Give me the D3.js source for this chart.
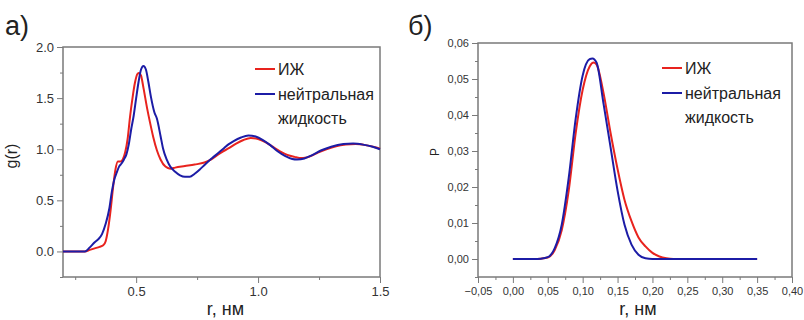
<!DOCTYPE html>
<html>
<head>
<meta charset="utf-8">
<script src="https://cdn.jsdelivr.net/npm/d3@7"></script>
<style>
  body { margin: 0; background: #fff; }
  svg { display: block; font-family: "Liberation Sans", Arial, sans-serif; }
</style>
</head>
<body>
<svg id="board" width="804" height="320"></svg>
<script>
// --- panel a: radial distribution g(r) ---
const rdfR = [0.20, 0.29, 0.31, 0.33, 0.345, 0.36, 0.375, 0.39, 0.40, 0.41, 0.42, 0.43, 0.44, 0.45, 0.46, 0.47, 0.48, 0.49, 0.50, 0.51, 0.52, 0.53, 0.54, 0.55, 0.56, 0.575, 0.585, 0.60, 0.61, 0.625, 0.64, 0.66, 0.68, 0.70, 0.72, 0.74, 0.76, 0.78, 0.80, 0.82, 0.84, 0.86, 0.88, 0.90, 0.93, 0.96, 0.99, 1.02, 1.05, 1.08, 1.11, 1.14, 1.16, 1.19, 1.22, 1.26, 1.30, 1.35, 1.39, 1.43, 1.47, 1.50];
const rdfNeutral = [0, 0, 0.04, 0.09, 0.12, 0.17, 0.27, 0.42, 0.58, 0.70, 0.77, 0.83, 0.86, 0.90, 0.95, 1.05, 1.20, 1.33, 1.50, 1.66, 1.78, 1.815, 1.78, 1.66, 1.52, 1.36, 1.30, 1.13, 1.01, 0.90, 0.83, 0.78, 0.745, 0.73, 0.73, 0.76, 0.80, 0.845, 0.89, 0.93, 0.97, 1.01, 1.05, 1.08, 1.115, 1.135, 1.125, 1.09, 1.04, 0.98, 0.935, 0.905, 0.90, 0.91, 0.94, 0.99, 1.025, 1.05, 1.055, 1.045, 1.025, 1.00];

const rdfRIL = [0.20, 0.29, 0.31, 0.33, 0.35, 0.365, 0.375, 0.385, 0.395, 0.405, 0.415, 0.425, 0.435, 0.445, 0.455, 0.465, 0.475, 0.485, 0.495, 0.505, 0.512, 0.52, 0.53, 0.545, 0.557, 0.57, 0.585, 0.60, 0.62, 0.64, 0.66, 0.70, 0.74, 0.78, 0.80, 0.82, 0.85, 0.88, 0.91, 0.94, 0.97, 1.00, 1.03, 1.06, 1.09, 1.12, 1.15, 1.17, 1.20, 1.24, 1.28, 1.32, 1.36, 1.40, 1.44, 1.48, 1.50];
const rdfIL = [0, 0, 0.015, 0.03, 0.045, 0.06, 0.10, 0.22, 0.40, 0.62, 0.80, 0.88, 0.88, 0.90, 0.97, 1.10, 1.32, 1.50, 1.65, 1.735, 1.745, 1.72, 1.60, 1.40, 1.26, 1.12, 0.99, 0.90, 0.83, 0.81, 0.82, 0.835, 0.85, 0.87, 0.89, 0.92, 0.97, 1.01, 1.055, 1.09, 1.11, 1.10, 1.07, 1.025, 0.98, 0.945, 0.925, 0.915, 0.92, 0.96, 1.0, 1.03, 1.045, 1.05, 1.04, 1.02, 1.005];

// --- panel b: distribution P(r) ---
const distR = [0.00, 0.01, 0.02, 0.03, 0.04, 0.05, 0.06, 0.07, 0.08, 0.09, 0.10, 0.11, 0.114, 0.12, 0.13, 0.14, 0.15, 0.16, 0.17, 0.18, 0.19, 0.20, 0.21, 0.25, 0.30, 0.35];
const distNeutral = [0, 0, 0, 0, 0.0001, 0.0005, 0.003, 0.0095, 0.0225, 0.039, 0.051, 0.0555, 0.0557, 0.0545, 0.043, 0.031, 0.019, 0.0095, 0.004, 0.0012, 0.0002, 0, 0, 0, 0, 0];

const distRIL = [0.00, 0.01, 0.02, 0.03, 0.04, 0.05, 0.06, 0.07, 0.08, 0.09, 0.10, 0.11, 0.116, 0.12, 0.13, 0.14, 0.15, 0.16, 0.17, 0.18, 0.19, 0.20, 0.21, 0.22, 0.23, 0.25, 0.30, 0.35];
const distIL = [0, 0, 0, 0, 0.0001, 0.0004, 0.0025, 0.008, 0.019, 0.035, 0.047, 0.0535, 0.0546, 0.054, 0.046, 0.035, 0.025, 0.0164, 0.0105, 0.006, 0.0035, 0.0017, 0.0007, 0.0002, 0, 0, 0, 0];

const legendLabels = ['ИЖ', 'нейтральная', 'жидкость'];
const ilColor = '#e8231e';
const neutralColor = '#1c1ca6';
const frameColor = '#7a7a7a';

const svg = d3.select('#board');
const comma = f => v => f(v).replace('.', ',');

function drawPanel(opt) {
  const g = svg.append('g');
  const x = d3.scaleLinear().domain(opt.xDomain).range([opt.left, opt.right]);
  const y = d3.scaleLinear().domain(opt.yDomain).range([opt.bottom, opt.top]);

  // minor ticks first, then major with labels
  g.append('g')
    .attr('transform', `translate(0,${opt.bottom})`)
    .call(d3.axisBottom(x).tickValues(opt.xMinor).tickSize(3).tickFormat(''))
    .call(s => s.select('.domain').remove());
  g.append('g')
    .attr('transform', `translate(${opt.left},0)`)
    .call(d3.axisLeft(y).tickValues(opt.yMinor).tickSize(3).tickFormat(''))
    .call(s => s.select('.domain').remove());

  const xa = g.append('g')
    .attr('transform', `translate(0,${opt.bottom})`)
    .call(d3.axisBottom(x).tickValues(opt.xTicks).tickSize(6).tickSizeOuter(0).tickPadding(4).tickFormat(opt.xFormat));
  const ya = g.append('g')
    .attr('transform', `translate(${opt.left},0)`)
    .call(d3.axisLeft(y).tickValues(opt.yTicks).tickSize(6).tickSizeOuter(0).tickPadding(3).tickFormat(opt.yFormat));

  [xa, ya].forEach(a => {
    a.selectAll('text').attr('fill', '#333').style('font-size', opt.tickFont + 'px').style('font-family', '"Liberation Sans", Arial, sans-serif');
  });
  g.selectAll('.tick line').attr('stroke', frameColor);

  // frame box
  g.append('rect')
    .attr('x', opt.left).attr('y', opt.top)
    .attr('width', opt.right - opt.left).attr('height', opt.bottom - opt.top)
    .attr('fill', 'none').attr('stroke', frameColor).attr('stroke-width', 1.5);
  g.selectAll('.domain').remove();

  const line = (xs, ys) => d3.line()
    .x((d, i) => x(xs[i])).y(d => y(d))
    .curve(d3.curveMonotoneX)(ys);

  g.append('path').attr('d', line(opt.ilX, opt.ilY))
    .attr('fill', 'none').attr('stroke', ilColor).attr('stroke-width', 2);
  g.append('path').attr('d', line(opt.nX, opt.nY))
    .attr('fill', 'none').attr('stroke', neutralColor).attr('stroke-width', 2);

  // legend
  const lg = g.append('g').attr('transform', `translate(${opt.legendX},${opt.legendY})`);
  lg.append('line').attr('x1', 0).attr('x2', 20).attr('y1', 0).attr('y2', 0)
    .attr('stroke', ilColor).attr('stroke-width', 2);
  lg.append('line').attr('x1', 0).attr('x2', 20).attr('y1', 25).attr('y2', 25)
    .attr('stroke', neutralColor).attr('stroke-width', 2);
  lg.selectAll('text').data(legendLabels).join('text')
    .attr('x', 23).attr('y', (d, i) => i * 24.5 + 6)
    .attr('fill', '#222').style('font-size', '16px')
    .text(d => d);

  // axis titles and panel letter
  g.append('text').attr('x', (opt.left + opt.right) / 2 + opt.xTitleShift).attr('y', 315)
    .attr('text-anchor', 'middle').attr('fill', '#222').style('font-size', '18px')
    .text('r, нм');
  g.append('text')
    .attr('transform', `translate(${opt.yTitleX},${opt.yTitleY}) rotate(-90)`)
    .attr('text-anchor', 'middle').attr('fill', '#222').style('font-size', opt.yTitleFont + 'px')
    .text(opt.yTitle);
  g.append('text').attr('x', opt.letterX).attr('y', 35)
    .attr('fill', '#222').style('font-size', '27px')
    .text(opt.letter);
}

drawPanel({
  left: 63, right: 380, top: 47, bottom: 277,
  xDomain: [0.2, 1.5], yDomain: [-0.25, 2.0],
  xTicks: [0.5, 1.0, 1.5], xMinor: [0.25, 0.75, 1.25],
  yTicks: [0, 0.5, 1.0, 1.5, 2.0], yMinor: [-0.25, 0.25, 0.75, 1.25, 1.75],
  xFormat: d3.format('.1f'), yFormat: d3.format('.1f'), tickFont: 13,
  ilX: rdfRIL, ilY: rdfIL, nX: rdfR, nY: rdfNeutral,
  legendX: 255, legendY: 69,
  xTitleShift: 4, yTitle: 'g(r)', yTitleX: 17, yTitleY: 156, yTitleFont: 16,
  letter: 'а)', letterX: 5
});

drawPanel({
  left: 478, right: 792, top: 43, bottom: 277,
  xDomain: [-0.05, 0.40], yDomain: [-0.005, 0.06],
  xTicks: d3.range(-0.05, 0.41, 0.05), xMinor: d3.range(-0.025, 0.4, 0.05),
  yTicks: d3.range(0, 0.061, 0.01), yMinor: d3.range(-0.005, 0.06, 0.01),
  xFormat: comma(d3.format('.2f')), yFormat: comma(d3.format('.2f')), tickFont: 11,
  ilX: distRIL, ilY: distIL, nX: distR, nY: distNeutral,
  legendX: 662, legendY: 68,
  xTitleShift: 3, yTitle: 'P', yTitleX: 439, yTitleY: 152, yTitleFont: 12,
  letter: 'б)', letterX: 408
});
</script>
</body>
</html>
